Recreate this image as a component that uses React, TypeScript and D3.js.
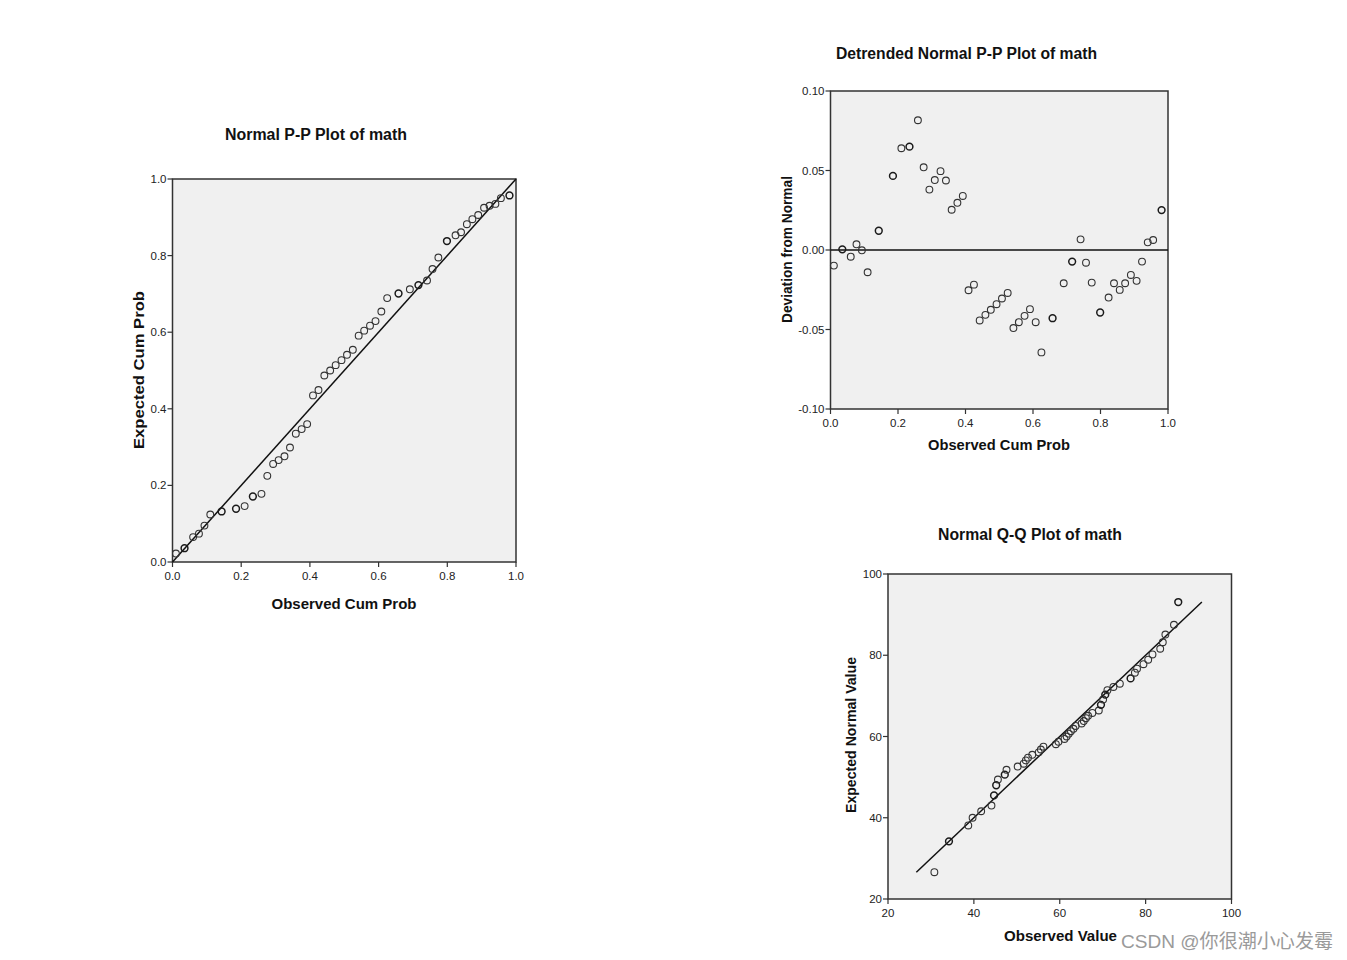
import React from "react";
import * as d3 from "d3";

// Observed cumulative probabilities (shared by the P-P and detrended plots)
const ppObserved = [
  0.010, 0.035, 0.060, 0.077, 0.093, 0.110, 0.143, 0.185, 0.210, 0.234,
  0.259, 0.276, 0.293, 0.309, 0.326, 0.342, 0.359, 0.376, 0.392, 0.409,
  0.425, 0.442, 0.459, 0.475, 0.492, 0.508, 0.525, 0.542, 0.558, 0.575,
  0.591, 0.608, 0.625, 0.658, 0.691, 0.716, 0.741, 0.757, 0.774, 0.799,
  0.824, 0.840, 0.857, 0.873, 0.890, 0.907, 0.923, 0.940, 0.956, 0.981,
];
// Expected cumulative probabilities (P-P y)
const ppExpected = [
  0.022, 0.036, 0.065, 0.074, 0.095, 0.124, 0.132, 0.139, 0.146, 0.171,
  0.178, 0.225, 0.256, 0.266, 0.276, 0.299, 0.335, 0.347, 0.360, 0.435,
  0.449, 0.487, 0.500, 0.514, 0.527, 0.541, 0.554, 0.591, 0.604, 0.617,
  0.629, 0.654, 0.689, 0.701, 0.712, 0.723, 0.735, 0.765, 0.795, 0.838,
  0.853, 0.861, 0.882, 0.895, 0.906, 0.925, 0.930, 0.935, 0.950, 0.957,
];
// Deviation from normal (detrended plot y)
const detrendedDeviation = [
  -0.0098, 0.0004, -0.0042, 0.0036, -0.0002, -0.014, 0.0121, 0.0466, 0.064, 0.065,
  0.0816, 0.052, 0.038, 0.044, 0.0496, 0.0437, 0.0253, 0.0297, 0.034, -0.0253,
  -0.0218, -0.0443, -0.0408, -0.0376, -0.0341, -0.0305, -0.027, -0.0491, -0.0454, -0.0414,
  -0.0372, -0.0454, -0.0644, -0.0429, -0.0209, -0.0073, 0.0067, -0.008, -0.0205, -0.0393,
  -0.0299, -0.0209, -0.0251, -0.0209, -0.0157, -0.0194, -0.0073, 0.0048, 0.0063, 0.0251,
];
// Q-Q plot: observed math values and expected normal values
const qqObserved = [
  30.8, 34.2, 38.7, 39.7, 41.7, 44.1, 44.7, 45.2, 45.6, 47.2,
  47.6, 50.2, 51.6, 52.1, 52.6, 53.6, 55.1, 55.6, 56.2, 59.1,
  59.7, 61.1, 61.6, 62.1, 62.6, 63.2, 63.7, 65.1, 65.6, 66.1,
  66.6, 67.6, 69.1, 69.6, 70.1, 70.6, 71.1, 72.5, 74.0, 76.5,
  77.5, 78.0, 79.5, 80.6, 81.6, 83.4, 84.0, 84.6, 86.6, 87.6,
];
const qqExpected = [
  26.6, 34.2, 38.1, 40.0, 41.6, 43.0, 45.5, 48.0, 49.4, 50.6,
  51.8, 52.6, 53.3, 54.1, 54.8, 55.5, 56.1, 56.8, 57.5, 58.1,
  58.7, 59.4, 60.0, 60.7, 61.3, 61.9, 62.6, 63.2, 63.8, 64.5,
  65.1, 65.8, 66.4, 67.8, 69.1, 70.3, 71.4, 72.2, 73.0, 74.3,
  75.7, 76.7, 77.8, 78.9, 80.2, 81.6, 83.2, 85.1, 87.5, 93.1,
];
// Number of tied cases drawn at each point
const tieCounts = [
  1, 2, 1, 1, 1, 1, 3, 2, 1, 2,
  1, 1, 1, 1, 1, 1, 1, 1, 1, 1,
  1, 1, 1, 1, 1, 1, 1, 1, 1, 1,
  1, 1, 1, 3, 1, 2, 1, 1, 1, 2,
  1, 1, 1, 1, 1, 1, 1, 1, 1, 2,
];

const ppTicks = [0, 0.2, 0.4, 0.6, 0.8, 1.0];
const devTicks = [-0.1, -0.05, 0, 0.05, 0.1];
const qqTicks = [20, 40, 60, 80, 100];

const FONT = "'Liberation Sans', Arial, Helvetica, sans-serif";
const fmt = (spec: string) => {
  const f = d3.format(spec);
  return (v: number) => f(v).replace("\u2212", "-");
};

type PanelProps = {
  left: number; right: number; top: number; bottom: number;
  xDomain: [number, number]; yDomain: [number, number];
  xTicks: number[]; yTicks: number[];
  xFmt: (v: number) => string; yFmt: (v: number) => string;
  xs: number[]; ys: number[];
  refLine: [number, number][];
  title: string; titleX: number; titleY: number; titleLen: number;
  xLabel: string; xLabelX: number; xLabelY: number; xLabelLen: number;
  yLabel: string; yLabelX: number; yLabelY: number; yLabelLen: number;
};

function Panel(p: PanelProps) {
  const x = d3.scaleLinear().domain(p.xDomain).range([p.left, p.right]);
  const y = d3.scaleLinear().domain(p.yDomain).range([p.bottom, p.top]);
  const line = d3.line<[number, number]>().x((d) => x(d[0])).y((d) => y(d[1]));
  return (
    <g>
      <rect x={p.left} y={p.top} width={p.right - p.left} height={p.bottom - p.top}
        fill="#f0f0f0" stroke="#333" strokeWidth={1.5} />
      {p.yTicks.map((t) => (
        <g key={"y" + t}>
          <line x1={p.left - 5} x2={p.left} y1={y(t)} y2={y(t)} stroke="#333" strokeWidth={1.2} />
          <text x={p.left - 6} y={y(t) + 4} textAnchor="end" fontSize={11.5} fill="#222" fontFamily={FONT}>
            {p.yFmt(t)}
          </text>
        </g>
      ))}
      {p.xTicks.map((t) => (
        <g key={"x" + t}>
          <line x1={x(t)} x2={x(t)} y1={p.bottom} y2={p.bottom + 5} stroke="#333" strokeWidth={1.2} />
          <text x={x(t)} y={p.bottom + 18} textAnchor="middle" fontSize={11.5} fill="#222" fontFamily={FONT}>
            {p.xFmt(t)}
          </text>
        </g>
      ))}
      <path d={line(p.refLine) || ""} stroke="#111" strokeWidth={1.5} fill="none" />
      {p.xs.map((v, i) => (
        <circle key={i} cx={x(v)} cy={y(p.ys[i])} r={3.4} fill="none"
          stroke={tieCounts[i] > 1 ? "#1a1a1a" : "#333"}
          strokeWidth={tieCounts[i] > 1 ? 1.5 : 1.1} />
      ))}
      <text x={p.titleX} y={p.titleY} textAnchor="middle" fontSize={16} fontWeight="bold"
        fill="#111" fontFamily={FONT} textLength={p.titleLen} lengthAdjust="spacingAndGlyphs">
        {p.title}
      </text>
      <text x={p.xLabelX} y={p.xLabelY} textAnchor="middle" fontSize={15} fontWeight="bold"
        fill="#111" fontFamily={FONT} textLength={p.xLabelLen} lengthAdjust="spacingAndGlyphs">
        {p.xLabel}
      </text>
      <text transform={`translate(${p.yLabelX},${p.yLabelY}) rotate(-90)`} textAnchor="middle"
        fontSize={15} fontWeight="bold" fill="#111" fontFamily={FONT}
        textLength={p.yLabelLen} lengthAdjust="spacingAndGlyphs">
        {p.yLabel}
      </text>
    </g>
  );
}

export default function App() {
  const qqExt = d3.extent(qqExpected) as [number, number];
  return (
    <svg width={1347} height={960} style={{ position: "absolute", left: 0, top: 0, background: "#fff" }}>
      <rect x={0} y={0} width={1347} height={960} fill="#fff" />
      <Panel
        left={172.5} right={516} top={179} bottom={562}
        xDomain={[0, 1]} yDomain={[0, 1]} xTicks={ppTicks} yTicks={ppTicks}
        xFmt={fmt(".1f")} yFmt={fmt(".1f")}
        xs={ppObserved} ys={ppExpected} refLine={[[0, 0], [1, 1]]}
        title="Normal P-P Plot of math" titleX={316} titleY={140} titleLen={182}
        xLabel="Observed Cum Prob" xLabelX={344} xLabelY={608.5} xLabelLen={145}
        yLabel="Expected Cum Prob" yLabelX={143.5} yLabelY={370} yLabelLen={158}
      />
      <Panel
        left={830.5} right={1168} top={91} bottom={409}
        xDomain={[0, 1]} yDomain={[-0.1, 0.1]} xTicks={ppTicks} yTicks={devTicks}
        xFmt={fmt(".1f")} yFmt={fmt(".2f")}
        xs={ppObserved} ys={detrendedDeviation} refLine={[[0, 0], [1, 0]]}
        title="Detrended Normal P-P Plot of math" titleX={966.5} titleY={59} titleLen={261}
        xLabel="Observed Cum Prob" xLabelX={999} xLabelY={449.5} xLabelLen={142}
        yLabel="Deviation from Normal" yLabelX={792} yLabelY={249.5} yLabelLen={147}
      />
      <Panel
        left={888} right={1231.5} top={574} bottom={899}
        xDomain={[20, 100]} yDomain={[20, 100]} xTicks={qqTicks} yTicks={qqTicks}
        xFmt={fmt("d")} yFmt={fmt("d")}
        xs={qqObserved} ys={qqExpected} refLine={[[qqExt[0], qqExt[0]], [qqExt[1], qqExt[1]]]}
        title="Normal Q-Q Plot of math" titleX={1030} titleY={540} titleLen={184}
        xLabel="Observed Value" xLabelX={1060.5} xLabelY={940.5} xLabelLen={113}
        yLabel="Expected Normal Value" yLabelX={856} yLabelY={735} yLabelLen={156}
      />
      <text x={1121} y={948} fontSize={19} fill="#9a9a9a" textLength={212} lengthAdjust="spacingAndGlyphs"
        fontFamily="'Liberation Sans', Arial, 'Noto Sans CJK SC', sans-serif">
        CSDN @你很潮小心发霉
      </text>
    </svg>
  );
}
